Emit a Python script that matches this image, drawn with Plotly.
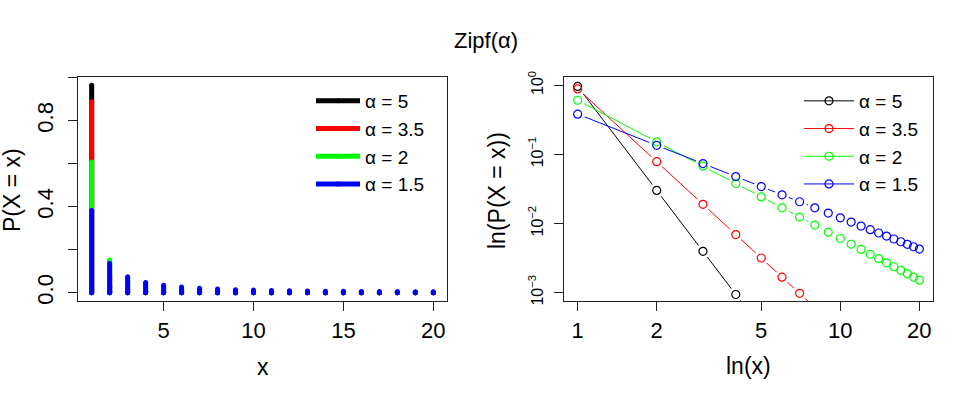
import plotly.graph_objects as go

# ── Data ────────────────────────────────────────────────────────────────────
x_vals = list(range(1, 21))

alphas = ["5", "3.5", "2", "1.5"]
colors = ["#000000", "#FF0000", "#00FF00", "#0000FF"]

p_a5 = [0.96439, 0.030137, 0.0039687, 0.00094178, 0.0003086, 0.00012402,
        0.000057382, 0.000029431, 0.000016332, 0.0000096439, 0.000005988,
        0.000003876, 0.000002597, 0.000001793, 0.00000127, 0.0000009197,
        0.0000006792, 0.0000005104, 0.0000003895, 0.0000003014]
p_a35 = [0.8875, 0.07845, 0.018978, 0.0069337, 0.0031753, 0.0016774,
         0.000978, 0.00061286, 0.00040582, 0.00028066, 0.000201, 0.000148,
         0.000112, 0.0000864, 0.0000679, 0.0000542, 0.0000438, 0.0000359,
         0.0000297, 0.0000248]
p_a2 = [0.6079, 0.152, 0.06755, 0.038, 0.02432, 0.01689, 0.01241, 0.009499,
        0.007506, 0.006079, 0.005024, 0.004222, 0.003597, 0.003102, 0.002702,
        0.002375, 0.002104, 0.001876, 0.001684, 0.00152]
p_a15 = [0.3828, 0.1353, 0.07367, 0.04785, 0.03424, 0.02605, 0.02067,
         0.01692, 0.01418, 0.0121, 0.010493, 0.009209, 0.008167, 0.007308,
         0.006589, 0.005981, 0.005461, 0.005012, 0.004622, 0.00428]

series = [p_a5, p_a35, p_a2, p_a15]

left_yticks = [0, 0.2, 0.4, 0.6, 0.8, 1.0]
left_yticktext = ["0.0", "", "0.4", "", "0.8", ""]
right_xticks = [1, 2, 5, 10, 20]
right_yticks = [1, 0.1, 0.01, 0.001]
right_yticktext = ["10<sup>0</sup>", "10<sup>−1</sup>", "10<sup>−2</sup>", "10<sup>−3</sup>"]

FONT = "Liberation Sans, Arial, sans-serif"
W, H = 973, 399

fig = go.Figure()

# ── Left: vertical stems (type = "h") ──────────────────────────────────────
for a, col, probs in zip(alphas, colors, series):
    xs, ys = [], []
    for xi, p in zip(x_vals, probs):
        xs += [xi, xi, None]
        ys += [0, p, None]
    fig.add_trace(go.Scatter(
        x=xs, y=ys, mode="lines+markers",
        line=dict(color=col, width=5),
        marker=dict(color=col, size=5, symbol="circle"),
        name=f"α = {a}", legend="legend",
        xaxis="x", yaxis="y", hoverinfo="skip",
    ))

# ── Right: log-log, type = "b" ─────────────────────────────────────────────
for a, col, probs in zip(alphas, colors, series):
    fig.add_trace(go.Scatter(
        x=x_vals, y=probs, mode="lines+markers",
        line=dict(color=col, width=1),
        marker=dict(symbol="circle-open", size=8, color=col, line=dict(width=1.2)),
        name=f"α = {a}", legend="legend2",
        xaxis="x2", yaxis="y2", cliponaxis=True,
    ))
# gaps around points
for probs in series:
    fig.add_trace(go.Scatter(
        x=x_vals, y=probs, mode="markers",
        marker=dict(symbol="circle", size=15, color="white", line=dict(width=0)),
        showlegend=False, xaxis="x2", yaxis="y2", hoverinfo="skip",
    ))
for col, probs in zip(colors, series):
    fig.add_trace(go.Scatter(
        x=x_vals, y=probs, mode="markers",
        marker=dict(symbol="circle-open", size=8, color=col, line=dict(width=1.2)),
        showlegend=False, xaxis="x2", yaxis="y2",
    ))

axis_common = dict(
    showline=True, mirror=True, linecolor="#222", linewidth=1,
    ticks="outside", ticklen=9, tickcolor="#222", tickwidth=1,
    showgrid=False, zeroline=False, automargin=False,
)


def label(text, x, y, size=23, angle=0):
    return dict(text=text, x=x / W, y=1 - y / H, xref="paper", yref="paper",
                xanchor="center", yanchor="middle", showarrow=False,
                textangle=angle, font=dict(size=size))


fig.update_layout(
    width=W, height=H,
    paper_bgcolor="white", plot_bgcolor="white",
    font=dict(family=FONT, color="black"),
    margin=dict(l=0, r=0, t=0, b=0, pad=0, autoexpand=False),
    showlegend=True,
    xaxis=dict(domain=[78 / W, 447 / W], range=[0.24, 20.76],
               tickvals=[5, 10, 15, 20], tickfont=dict(size=22),
               ticklabelstandoff=1, anchor="y", **axis_common),
    yaxis=dict(domain=[(H - 301) / H, (H - 77) / H], range=[-0.0386, 1.003],
               tickvals=left_yticks, ticktext=left_yticktext, tickangle=-90,
               tickfont=dict(size=22), ticklabelstandoff=6, anchor="x",
               **axis_common),
    xaxis2=dict(domain=[564 / W, 933 / W], type="log", range=[-0.052, 1.353],
                tickvals=right_xticks, tickfont=dict(size=22),
                ticklabelstandoff=1, anchor="y2", **axis_common),
    yaxis2=dict(domain=[(H - 301) / H, (H - 77) / H], type="log",
                range=[-3.12, 0.12], tickvals=right_yticks,
                ticktext=right_yticktext, tickangle=-90,
                tickfont=dict(size=16), ticklabelstandoff=5, anchor="x2",
                **axis_common),
    legend=dict(x=311 / W, y=1 - 82 / H, xanchor="left", yanchor="top",
                bgcolor="rgba(0,0,0,0)", font=dict(size=19), itemwidth=44,
                tracegroupgap=0),
    legend2=dict(x=799 / W, y=1 - 82 / H, xanchor="left", yanchor="top",
                 bgcolor="rgba(0,0,0,0)", font=dict(size=19), itemwidth=50,
                 tracegroupgap=0),
    annotations=[
        label("Zipf(α)", 486, 40, size=22),
        label("x", 262.5, 367),
        label("ln(x)", 748.5, 366),
        label("P(X = x)", 12, 190, angle=-90),
        label("ln(P(X = x))", 497, 191, angle=-90),
    ],
)

fig.write_html("out.html", config={"displayModeBar": False},
               post_script="document.body.style.margin='0';")
